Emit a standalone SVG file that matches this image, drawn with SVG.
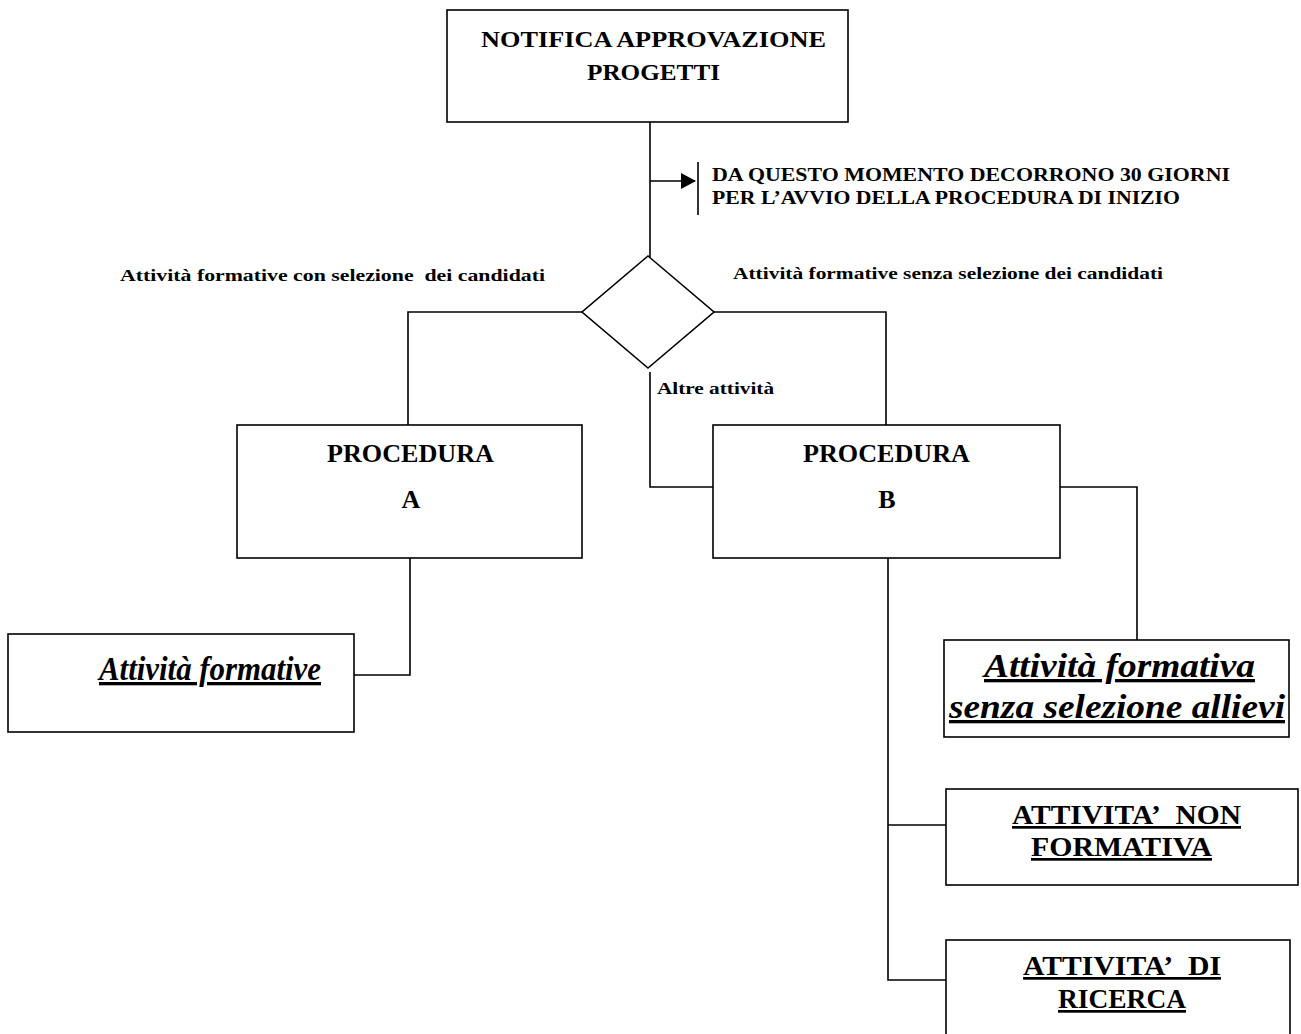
<svg xmlns="http://www.w3.org/2000/svg" width="1301" height="1034" viewBox="0 0 1301 1034">
<style>
.box{fill:#fff;stroke:#000;stroke-width:1.6}
.ln{fill:none;stroke:#000;stroke-width:1.6}
text{font-family:"Liberation Serif","Times New Roman",serif;font-weight:bold;fill:#000}
.h{font-size:23px}
.note{font-size:18px}
.lbl{font-size:17px}
.proc{font-size:26px}
.it{font-size:33px;font-style:italic;text-decoration:underline}
.cap{font-size:27px;text-decoration:underline}
</style>
<defs>
<marker id="ah" markerWidth="15" markerHeight="16" refX="14" refY="8" orient="auto" markerUnits="userSpaceOnUse">
<path d="M0,0 L15,8 L0,16 z" fill="#000"/>
</marker>
</defs>
<rect width="1301" height="1034" fill="#fff"/>
<g id="connectors">
<path class="ln" d="M650,122 V257"/>
<path class="ln" d="M650,181 H695" marker-end="url(#ah)"/>
<path class="ln" d="M698,162 V215"/>
<path class="ln" d="M582,312 H408 V425"/>
<path class="ln" d="M714,312 H886 V425"/>
<path class="ln" d="M650,372 V487 H713"/>
<path class="ln" d="M1060,487 H1137 V640"/>
<path class="ln" d="M410,558 V675 H354"/>
<path class="ln" d="M888,558 V980 H946"/>
<path class="ln" d="M888,825 H946"/>
</g>
<g id="n-notifica">
<rect class="box" x="447" y="10" width="401" height="112"/>
<text class="h" x="481" y="47" textLength="345" lengthAdjust="spacingAndGlyphs">NOTIFICA APPROVAZIONE</text>
<text class="h" x="587" y="80" textLength="133" lengthAdjust="spacingAndGlyphs">PROGETTI</text>
</g>
<g id="n-note">
<text class="note" x="712" y="181" textLength="518" lengthAdjust="spacingAndGlyphs">DA QUESTO MOMENTO DECORRONO 30 GIORNI</text>
<text class="note" x="712" y="204" textLength="468" lengthAdjust="spacingAndGlyphs">PER L’AVVIO DELLA PROCEDURA DI INIZIO</text>
</g>
<g id="n-decision">
<polygon class="box" points="648,256 714,312 648,368 582,312"/>
</g>
<g id="labels">
<text class="lbl" x="120" y="281" textLength="425" lengthAdjust="spacingAndGlyphs">Attività formative con selezione&#160; dei candidati</text>
<text class="lbl" x="733" y="279" textLength="430" lengthAdjust="spacingAndGlyphs">Attività formative senza selezione dei candidati</text>
<text class="lbl" x="657" y="394" textLength="117" lengthAdjust="spacingAndGlyphs">Altre attività</text>
</g>
<g id="n-procA">
<rect class="box" x="237" y="425" width="345" height="133"/>
<text class="proc" x="327" y="462" textLength="167" lengthAdjust="spacingAndGlyphs">PROCEDURA</text>
<text class="proc" x="411" y="508" text-anchor="middle">A</text>
</g>
<g id="n-procB">
<rect class="box" x="713" y="425" width="347" height="133"/>
<text class="proc" x="803" y="462" textLength="167" lengthAdjust="spacingAndGlyphs">PROCEDURA</text>
<text class="proc" x="887" y="508" text-anchor="middle">B</text>
</g>
<g id="n-attform">
<rect class="box" x="8" y="634" width="346" height="98"/>
<text class="it" x="99" y="680" textLength="222" lengthAdjust="spacingAndGlyphs">Attività formative</text>
</g>
<g id="n-senza">
<rect class="box" x="944" y="640" width="345" height="97"/>
<text class="it" x="984" y="677" textLength="271" lengthAdjust="spacingAndGlyphs">Attività formativa</text>
<text class="it" x="949" y="718" textLength="336" lengthAdjust="spacingAndGlyphs">senza selezione allievi</text>
</g>
<g id="n-nonform">
<rect class="box" x="946" y="789" width="352" height="96"/>
<text class="cap" x="1012" y="824" textLength="229" lengthAdjust="spacingAndGlyphs">ATTIVITA’&#160; NON</text>
<text class="cap" x="1031" y="856" textLength="181" lengthAdjust="spacingAndGlyphs">FORMATIVA</text>
</g>
<g id="n-ricerca">
<rect class="box" x="946" y="940" width="344" height="110"/>
<text class="cap" x="1023" y="975" textLength="198" lengthAdjust="spacingAndGlyphs">ATTIVITA’&#160; DI</text>
<text class="cap" x="1058" y="1008" textLength="128" lengthAdjust="spacingAndGlyphs">RICERCA</text>
</g>
</svg>
